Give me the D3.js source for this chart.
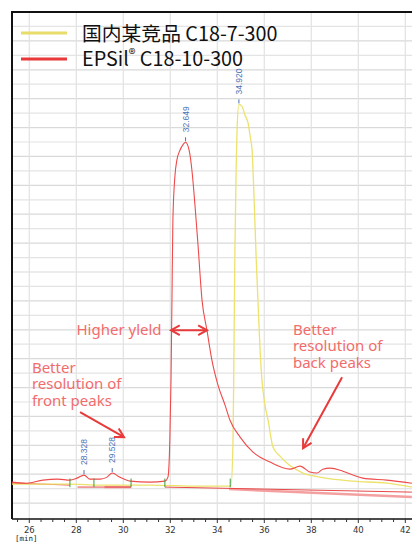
<!DOCTYPE html>
<html lang="zh">
<head>
<meta charset="UTF-8">
<title>Chromatogram</title>
<script src="https://d3js.org/d3.v7.min.js"></script>
<style>
  body { margin: 0; background: #fff; }
  svg { display: block; }
</style>
</head>
<body>
<script>
// retention time (min) / detector signal
const epsilTime = [25.26, 25.90, 26.58, 27.22, 27.73, 28.03, 28.33, 28.58, 29.01, 29.31, 29.53, 29.84, 30.29, 31.14, 31.77, 31.90, 31.98, 32.03, 32.07, 32.11, 32.20, 32.28, 32.41, 32.55, 32.65, 32.80, 32.92, 33.05, 33.18, 33.35, 33.56, 33.77, 34.03, 34.33, 34.54, 34.97, 35.52, 36.24, 37.09, 37.52, 37.94, 38.24, 38.49, 38.79, 39.34, 39.77, 40.19, 41.21, 42.28];
const epsilSignal = [14.5, 13.8, 15.9, 16.6, 15.9, 17.3, 19.4, 16.6, 16.6, 18.0, 20.8, 18.0, 15.2, 14.5, 15.2, 18.0, 43.6, 85.1, 140.5, 195.8, 227.0, 237.4, 244.3, 248.4, 249.8, 244.3, 230.4, 206.2, 178.5, 140.5, 119.7, 99.0, 81.7, 67.8, 57.4, 45.7, 35.3, 28.4, 23.5, 25.6, 21.5, 20.8, 23.5, 24.2, 22.1, 19.4, 17.3, 15.9, 13.8];

const rivalTime = [25.26, 27.73, 29.01, 31.14, 33.26, 34.58, 34.67, 34.71, 34.75, 34.80, 34.84, 34.92, 35.05, 35.18, 35.31, 35.39, 35.48, 35.56, 35.65, 35.73, 35.82, 35.90, 36.03, 36.16, 36.37, 36.67, 36.96, 37.65, 38.37, 39.77, 41.21, 42.28];
const rivalSignal = [13.1, 13.1, 12.5, 12.5, 11.8, 11.8, 43.6, 105.9, 175.1, 230.4, 258.1, 276.0, 274.7, 268.5, 263.0, 254.7, 244.3, 213.1, 171.6, 140.5, 105.9, 85.1, 67.8, 57.4, 38.8, 32.5, 27.7, 20.8, 18.0, 15.2, 13.8, 11.1];

const seriesNames = ["国内某竞品 C18-7-300", "EPSil"];
const peakTimes = [28.328, 29.528, 32.649, 34.920];
const peakSignal = [19.4, 20.8, 249.8, 276.0];
const peakLabels = ["28.328", "29.528", "32.649", "34.920"];

// integration baselines drawn by the software: [t0, v0, t1, v1]
const redBaselines = [[25.26, 13.8, 27.73, 12.5], [28.05, 11.1, 30.33, 11.1], [31.77, 11.1, 42.28, 7.6]];
const pinkBaselines = [[29.2, 11.1, 30.33, 11.1], [34.5, 9.7, 42.28, 4.2]];
const peakMarks = [27.73, 28.75, 30.33, 31.77, 34.55];

const xTicks = [26, 28, 30, 32, 34, 36, 38, 40, 42];

const width = 412, height = 542;
const plot = { left: 12, top: 12, right: 412, bottom: 519 };

const x = d3.scaleLinear().domain([25.264, 42.285]).range([plot.left, plot.right]);
const y = d3.scaleLinear().domain([-11, 340]).range([plot.bottom, plot.top]);

const svg = d3.select("body").append("svg")
  .attr("width", width).attr("height", height);

// grid
svg.append("g").selectAll("line")
  .data(d3.range(0, 341, 10))
  .join("line")
  .attr("x1", plot.left).attr("x2", plot.right)
  .attr("y1", d => y(d)).attr("y2", d => y(d))
  .attr("stroke", (d, i) => i % 2 ? "#e4e4e4" : "#d9d9d9")
  .attr("stroke-width", 1.2);

svg.append("g").selectAll("line")
  .data(xTicks)
  .join("line")
  .attr("x1", d => x(d)).attr("x2", d => x(d))
  .attr("y1", plot.top).attr("y2", plot.bottom)
  .attr("stroke", "#e2e2e2")
  .attr("stroke-width", 1.2);

// frame
svg.append("path")
  .attr("d", `M${plot.left},${plot.bottom}V${plot.top}H${plot.right}`)
  .attr("fill", "none").attr("stroke", "#111").attr("stroke-width", 2);

// x axis
const xAxis = svg.append("g")
  .attr("transform", `translate(0,${plot.bottom})`);
xAxis.append("line")
  .attr("x1", plot.left).attr("x2", plot.right)
  .attr("stroke", "#111").attr("stroke-width", 1.5);
xAxis.selectAll(".minor")
  .data(d3.range(25.5, 42.3, 0.5))
  .join("line")
  .attr("x1", d => x(d)).attr("x2", d => x(d))
  .attr("y1", 0).attr("y2", d => d % 2 === 0 ? 4 : 3)
  .attr("stroke", "#333");
xAxis.selectAll("text")
  .data(xTicks)
  .join("text")
  .attr("x", d => x(d))
  .attr("y", 14)
  .attr("text-anchor", "middle")
  .attr("font-family", "DejaVu Sans")
  .attr("font-size", 8.5)
  .attr("fill", "#333")
  .text(d => d);
svg.append("text")
  .attr("x", 15).attr("y", 541)
  .attr("font-family", "DejaVu Sans Mono")
  .attr("font-size", 7.5)
  .attr("fill", "#222")
  .text("[min]");

// integration baselines
svg.append("g").selectAll("line")
  .data(pinkBaselines)
  .join("line")
  .attr("x1", d => x(d[0])).attr("y1", d => y(d[1]))
  .attr("x2", d => x(d[2])).attr("y2", d => y(d[3]))
  .attr("stroke", "#f4a0a0").attr("stroke-width", 2.5);
svg.append("g").selectAll("line")
  .data(redBaselines)
  .join("line")
  .attr("x1", d => x(d[0])).attr("y1", d => y(d[1]))
  .attr("x2", d => x(d[2])).attr("y2", d => y(d[3]))
  .attr("stroke", "#e84848").attr("stroke-width", 1);

const line = d3.line().x(d => x(d[0])).y(d => y(d[1])).curve(d3.curveMonotoneX);

svg.append("path")
  .datum(d3.zip(rivalTime, rivalSignal))
  .attr("d", line)
  .attr("fill", "none").attr("stroke", "#ece26c").attr("stroke-width", 1.3);

svg.append("path")
  .datum(d3.zip(epsilTime, epsilSignal))
  .attr("d", line)
  .attr("fill", "none").attr("stroke", "#ee4a4a").attr("stroke-width", 1.1);

// peak start / end marks
svg.append("g").selectAll("line")
  .data(peakMarks)
  .join("line")
  .attr("x1", d => x(d)).attr("x2", d => x(d))
  .attr("y1", y(17)).attr("y2", y(11))
  .attr("stroke", "#3a9a3a").attr("stroke-width", 1);

// peak labels
const peaks = svg.append("g");
peakTimes.forEach((t, i) => {
  const px = x(t), py = y(peakSignal[i]);
  peaks.append("line")
    .attr("x1", px).attr("x2", px)
    .attr("y1", py - 1).attr("y2", py - 5)
    .attr("stroke", "#4a72b8").attr("stroke-width", 1);
  peaks.append("text")
    .attr("transform", `translate(${px + 3},${py - 10}) rotate(-90)`)
    .attr("font-family", "Liberation Sans")
    .attr("font-size", 8.5)
    .attr("fill", "#4a72b8")
    .text(peakLabels[i]);
});

// legend
const legend = svg.append("g").attr("font-family", "Noto Sans CJK SC").attr("fill", "#111");
legend.append("line").attr("x1", 21).attr("x2", 67).attr("y1", 33).attr("y2", 33)
  .attr("stroke", "#e8dc6a").attr("stroke-width", 3);
legend.append("line").attr("x1", 21).attr("x2", 67).attr("y1", 59).attr("y2", 59)
  .attr("stroke", "#e83838").attr("stroke-width", 3);
const lt = legend.append("text").attr("x", 82).attr("y", 41).attr("font-size", 19.8);
lt.append("tspan").attr("x", 82).text(seriesNames[0]);
lt.append("tspan").attr("x", 82).attr("dy", 25).text(seriesNames[1]);
lt.append("tspan").attr("font-size", 14).attr("dy", -7).text("®");
lt.append("tspan").attr("dy", 7).text(" C18-10-300");

// annotations
const noteColor = "#f26c6c", arrowColor = "#e83a3a";
const notes = svg.append("g").attr("font-family", "Noto Sans").attr("font-size", 15).attr("fill", noteColor);
function block(lines, tx, v, dy) {
  const t = notes.append("text").attr("x", x(tx)).attr("y", y(v));
  lines.forEach((s, i) => {
    t.append("tspan").attr("x", x(tx)).attr("dy", i ? dy : 0).text(s);
  });
}
block(["Better", "resolution of", "front peaks"], 26.11, 90.3, 16.5);
block(["Better", "resolution of", "back peaks"], 37.22, 116.6, 16.5);
notes.append("text").attr("x", x(31.63)).attr("y", y(116.6)).attr("text-anchor", "end").text("Higher yleld");

function arrowHead(g, x1, y1, x2, y2, size) {
  const a = Math.atan2(y2 - y1, x2 - x1);
  const p = (da) => [x2 - size * Math.cos(a + da), y2 - size * Math.sin(a + da)];
  const l = p(0.5), r = p(-0.5);
  g.append("path")
    .attr("d", `M${l[0]},${l[1]}L${x2},${y2}L${r[0]},${r[1]}`)
    .attr("fill", "none").attr("stroke", arrowColor).attr("stroke-width", 2)
    .attr("stroke-linejoin", "miter");
}
function arrow(t1, v1, t2, v2, both) {
  const g = svg.append("g");
  const x1 = x(t1), y1 = y(v1), x2 = x(t2), y2 = y(v2);
  g.append("line").attr("x1", x1).attr("y1", y1).attr("x2", x2).attr("y2", y2)
    .attr("stroke", arrowColor).attr("stroke-width", 2);
  arrowHead(g, x1, y1, x2, y2, 10);
  if (both) arrowHead(g, x2, y2, x1, y1, 10);
}
arrow(28.16, 63.0, 30.03, 45.7);
arrow(39.31, 87.2, 37.65, 38.0);
arrow(32.03, 119.7, 33.56, 119.7, true);
</script>
</body>
</html>
